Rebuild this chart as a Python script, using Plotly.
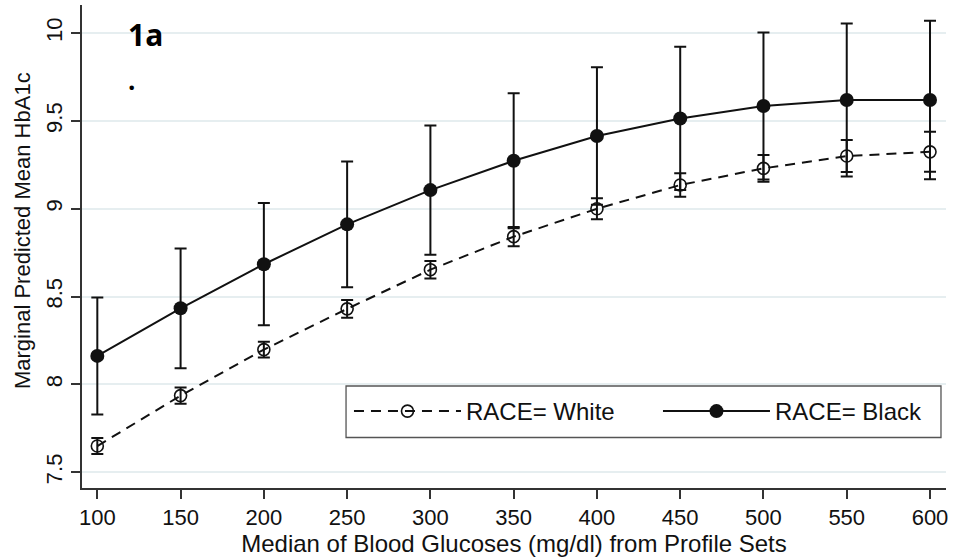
import plotly.graph_objects as go

glucose = [100, 150, 200, 250, 300, 350, 400, 450, 500, 550, 600]

white_mean = [7.649, 7.936, 8.198, 8.430, 8.653, 8.841, 9.000, 9.135, 9.230, 9.300, 9.324]
white_err = [0.045, 0.046, 0.045, 0.050, 0.050, 0.055, 0.060, 0.067, 0.076, 0.091, 0.114]

black_mean = [8.162, 8.433, 8.684, 8.911, 9.106, 9.273, 9.414, 9.514, 9.585, 9.619, 9.619]
black_err = [0.333, 0.341, 0.348, 0.358, 0.368, 0.384, 0.391, 0.408, 0.419, 0.436, 0.451]

x_ticks = [100, 150, 200, 250, 300, 350, 400, 450, 500, 550, 600]
y_ticks = [7.5, 8, 8.5, 9, 9.5, 10]
y_labels = ["7.5", "8", "8.5", "9", "9.5", "10"]

FONT = "Liberation Sans"
INK = "#111111"

fig = go.Figure()

fig.add_trace(go.Scatter(
    x=glucose, y=white_mean, name="RACE= White", mode="lines+markers",
    line=dict(color=INK, width=2, dash="10px,7px"),
    marker=dict(symbol="circle-open", size=12, color=INK, line=dict(width=1.6)),
    error_y=dict(type="data", array=white_err, color=INK, thickness=2, width=6),
))
fig.add_trace(go.Scatter(
    x=glucose, y=black_mean, name="RACE= Black", mode="lines+markers",
    line=dict(color=INK, width=2),
    marker=dict(symbol="circle", size=14, color=INK),
    error_y=dict(type="data", array=black_err, color=INK, thickness=2, width=6),
))

fig.update_layout(
    width=955, height=557,
    margin=dict(l=82, r=9, t=5, b=69, autoexpand=False),
    paper_bgcolor="white", plot_bgcolor="white",
    font=dict(family=FONT, size=21, color=INK),
    showlegend=True,
    legend=dict(
        orientation="h", x=0.309, y=0.205, xanchor="left", yanchor="top",
        borderwidth=0, bgcolor="rgba(0,0,0,0)",
        font=dict(family=FONT, size=24, color=INK),
        entrywidth=187, itemwidth=107,
    ),
    shapes=[
        dict(type="rect", xref="paper", yref="paper",
             x0=0.3056, x1=0.9942, y0=0.1046, y1=0.2112,
             line=dict(color="#555555", width=1.3), fillcolor="white",
             layer="above"),
    ],
    xaxis=dict(
        range=[90.8, 609.6], tickvals=x_ticks,
        showgrid=False, zeroline=False,
        showline=True, linecolor="#333333", linewidth=1.5,
        ticks="outside", ticklen=9, tickwidth=1.5, tickcolor="#333333",
        tickfont=dict(family=FONT, size=22, color=INK),
        title=dict(text="Median of Blood Glucoses (mg/dl) from Profile Sets",
                   font=dict(family=FONT, size=24, color=INK), standoff=4),
    ),
    yaxis=dict(
        range=[7.41, 10.16], tickvals=y_ticks, ticktext=y_labels,
        tickangle=-90,
        showgrid=True, gridcolor="#e6eef0", gridwidth=1.5,
        zeroline=False,
        showline=True, linecolor="#333333", linewidth=1.5,
        ticks="outside", ticklen=9, tickwidth=1.5, tickcolor="#333333",
        tickfont=dict(family=FONT, size=22, color=INK),
    ),
    annotations=[
        dict(text="Marginal Predicted Mean HbA1c", textangle=-90,
             xref="paper", yref="paper", x=-0.0694, y=0.532,
             xanchor="center", yanchor="middle", showarrow=False,
             font=dict(family=FONT, size=22, color=INK)),
        dict(text="<b>1a</b>", xref="paper", yref="paper", x=0.051, y=0.938,
             xanchor="left", yanchor="middle", showarrow=False,
             font=dict(family="Open Sans", size=30, color="black")),
        dict(text="<b>.</b>", xref="paper", yref="paper", x=0.051, y=0.845,
             xanchor="left", yanchor="middle", showarrow=False,
             font=dict(family="Open Sans", size=26, color="black")),
    ],
)

fig.write_html("out.html")
